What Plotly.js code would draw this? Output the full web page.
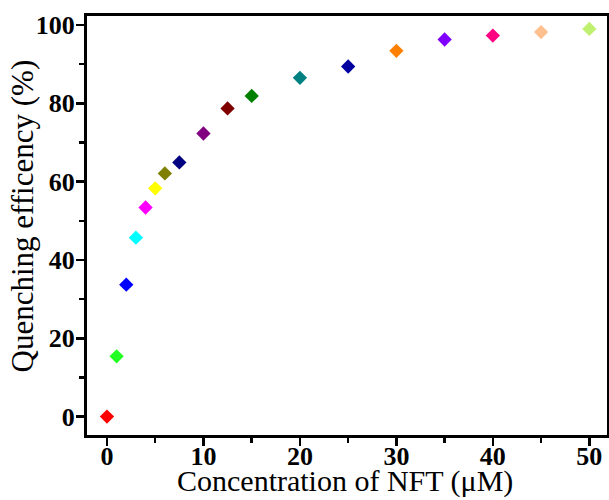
<!DOCTYPE html>
<html>
<head>
<meta charset="utf-8">
<script src="https://cdn.plot.ly/plotly-3.0.1.min.js"></script>
<style>html,body{margin:0;padding:0;background:#fff;}#chart{width:609px;height:500px;}</style>
</head>
<body>
<div id="chart"></div>
<script>
const concentration = [0, 1, 2, 3, 4, 5, 6, 7.5, 10, 12.5, 15, 20, 25, 30, 35, 40, 45, 50];
const efficiency = [0, 15.4, 33.7, 45.7, 53.4, 58.3, 62.1, 64.9, 72.3, 78.7, 81.9, 86.5, 89.4, 93.4, 96.3, 97.3, 98.2, 99.0];
const pointColors = ['#ff0000', '#22ff22', '#0000ff', '#00ffff', '#ff00ff', '#ffff00', '#808000', '#000080', '#800080', '#800000', '#008000', '#008080', '#0000a0', '#ff8000', '#8000ff', '#ff0080', '#ffc090', '#c0f070'];
const xTickVals = [0, 10, 20, 30, 40, 50];
const yTickVals = [0, 20, 40, 60, 80, 100];
const xTitle = 'Concentration of NFT (μM)';
const yTitle = 'Quenching efficency (%)';

const trace = {
  x: concentration, y: efficiency, type: 'scatter', mode: 'markers',
  marker: {symbol: 'diamond', size: 11, color: pointColors, line: {width: 0}}, showlegend: false
};
const serif = '"Liberation Serif", "Times New Roman", serif';
const axisFont = {family: serif, size: 26, color: '#000', weight: 'bold'};
const xTitleFont = {family: serif, size: 30, color: '#000'};
const yTitleFont = {family: serif, size: 31, color: '#000'};
const layout = {
  width: 609, height: 500, margin: {l: 87, r: 2, t: 16, b: 65},
  paper_bgcolor: '#fff', plot_bgcolor: '#fff',
  xaxis: {range: [-2.07, 51.83], tickvals: xTickVals, ticktext: xTickVals.map(String),
    ticks: 'outside', ticklen: 8, tickwidth: 2.5, tickcolor: '#000', ticklabelstandoff: -12,
    minor: {dtick: 5, tick0: 0, ticks: 'outside', ticklen: 5, tickwidth: 2.5, tickcolor: '#000'},
    showline: true, linewidth: 3, linecolor: '#000', mirror: true, showgrid: false, zeroline: false, tickfont: axisFont},
  yaxis: {range: [-4.7, 102.3], tickvals: yTickVals, ticktext: yTickVals.map(String),
    ticks: 'outside', ticklen: 8, tickwidth: 2.5, tickcolor: '#000', ticklabelstandoff: -4,
    minor: {dtick: 10, tick0: 0, ticks: 'outside', ticklen: 5, tickwidth: 2.5, tickcolor: '#000'},
    showline: true, linewidth: 3, linecolor: '#000', mirror: true, showgrid: false, zeroline: false, tickfont: axisFont},
  annotations: [
    {text: xTitle, font: xTitleFont, showarrow: false,
      xref: 'paper', yref: 'paper', x: 0.497, y: -0.1551, xanchor: 'center', yanchor: 'bottom'},
    {text: yTitle, font: yTitleFont, textangle: -90, showarrow: false,
      xref: 'paper', yref: 'paper', x: -0.124, y: 0.5227, xanchor: 'center', yanchor: 'middle'}
  ]
};
Plotly.newPlot('chart', [trace], layout, {displayModeBar: false, staticPlot: true});
</script>
</body>
</html>
